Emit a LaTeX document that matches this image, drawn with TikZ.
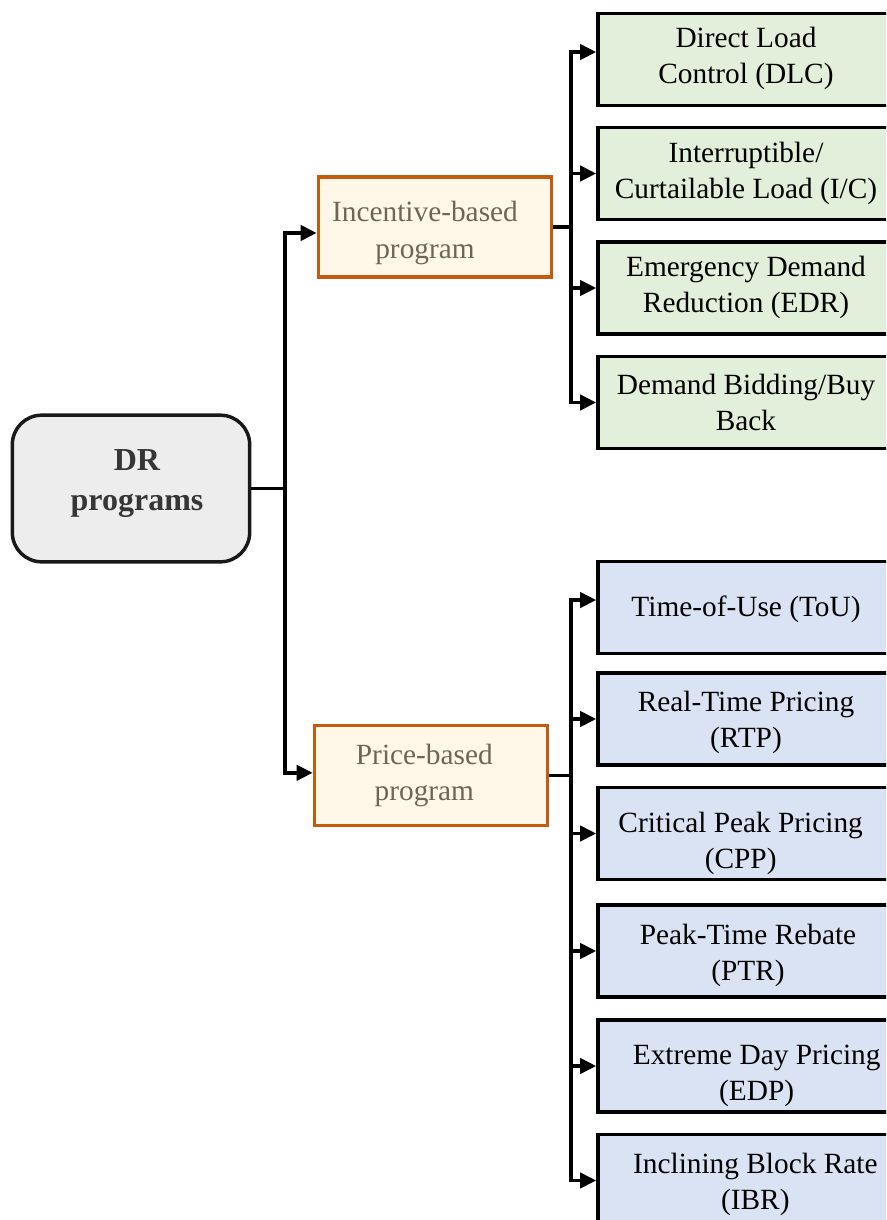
\documentclass[tikz,border=0pt]{standalone}
\usepackage{fontspec}
\setmainfont{Liberation Serif}
\usetikzlibrary{arrows.meta}
\definecolor{rootfill}{HTML}{EDEDED}
\definecolor{roottext}{HTML}{363636}
\definecolor{catfill}{HTML}{FFF8E8}
\definecolor{catdraw}{HTML}{C55A11}
\definecolor{cattext}{HTML}{6B6757}
\definecolor{incfill}{HTML}{E2EFDA}
\definecolor{pricefill}{HTML}{DAE3F3}
\begin{document}
\begin{tikzpicture}[x=0.75pt,y=-0.75pt,
  rootbox/.style={draw=black!90,line width=2.6pt,fill=rootfill,rounded corners=22pt,
    minimum width=178pt,minimum height=110pt,inner sep=0pt},
  roottxt/.style={align=center,inner sep=0pt,text=roottext,
    font=\fontsize{24}{30}\selectfont\bfseries},
  catbox/.style={draw=catdraw,line width=2.6pt,fill=catfill,
    minimum width=175pt,minimum height=75pt,inner sep=0pt},
  cattxt/.style={align=center,inner sep=0pt,text=cattext,
    font=\fontsize{22}{27.5}\selectfont},
  leafbox/.style={draw=black,line width=2.8pt,
    minimum width=222pt,minimum height=69pt,inner sep=0pt},
  leaftxt/.style={align=center,inner sep=0pt,font=\fontsize{22}{27}\selectfont},
  incbox/.style={leafbox,fill=incfill},
  pricebox/.style={leafbox,fill=pricefill},
  link/.style={line width=2.5pt},
  arr/.style={link,-{Triangle[length=12pt,width=11.5pt]}}]
\useasboundingbox (0,0) rectangle (886,1220);
\clip (0,0) rectangle (886,1220);

% root and the two program families
\node[rootbox,label={[roottxt,xshift=4.5pt,yshift=3.5pt]center:DR\\programs}] (root) at (131,488.5) {};
\node[catbox,label={[cattxt,xshift=-7.5pt,yshift=-4.5pt]center:Incentive-based\\program}] (ibp) at (435,227) {};
\node[catbox,label={[cattxt,xshift=-5pt]center:Price-based\\program}] (pbp) at (431,775.5) {};

% incentive-based programs
\node[incbox,label={[leaftxt,yshift=0.5pt]center:Direct Load\\Control (DLC)}] (dlc) at (746,59.5) {};
\node[incbox,label={[leaftxt]center:Interruptible/\\Curtailable Load (I/C)}] (ic) at (746,173.5) {};
\node[incbox,label={[leaftxt,yshift=0.5pt]center:Emergency Demand\\Reduction (EDR)}] (edr) at (746,288) {};
\node[incbox,label={[leaftxt]center:Demand Bidding/Buy\\Back}] (dbb) at (746,402.5) {};

% price-based programs
\node[pricebox,label={[leaftxt,yshift=-1.5pt]center:Time-of-Use (ToU)}] (tou) at (746,607.5) {};
\node[pricebox,label={[leaftxt,yshift=-2.5pt]center:Real-Time Pricing\\(RTP)}] (rtp) at (746,719) {};
\node[pricebox,label={[leaftxt,yshift=-7.5pt,xshift=-4pt]center:Critical Peak Pricing\\(CPP)}] (cpp) at (746,833.5) {};
\node[pricebox,label={[leaftxt,yshift=-3.5pt,xshift=1.5pt]center:Peak-Time Rebate\\(PTR)}] (ptr) at (746,951) {};
\node[pricebox,label={[leaftxt,yshift=-7.5pt,xshift=8pt]center:Extreme Day Pricing\\(EDP)}] (edp) at (746,1066) {};
\node[pricebox,label={[leaftxt,yshift=-3pt,xshift=7pt]center:Inclining Block Rate\\(IBR)}] (ibr) at (746,1180.5) {};

% trunk from the root
\coordinate (rj) at (285,488.5);
\draw[link] (root.east) -- (rj);
\draw[arr] (rj) |- ([yshift=-4.5pt]ibp.west);
\draw[arr] (rj) |- ([yshift=2pt]pbp.west);

% incentive branch
\coordinate (ij) at (571,227);
\draw[link] (ibp.east) -- (ij);
\draw[arr] (ij) |- ([yshift=5.6pt]dlc.west);
\foreach \t in {ic,edr,dbb} \draw[arr] (ij) |- (\t.west);

% price branch
\coordinate (pj) at (571,775.5);
\draw[link] (pbp.east) -- (pj);
\draw[arr] (pj) |- ([yshift=5.6pt]tou.west);
\foreach \t in {rtp,cpp,ptr,edp,ibr} \draw[arr] (pj) |- (\t.west);
\end{tikzpicture}
\end{document}
